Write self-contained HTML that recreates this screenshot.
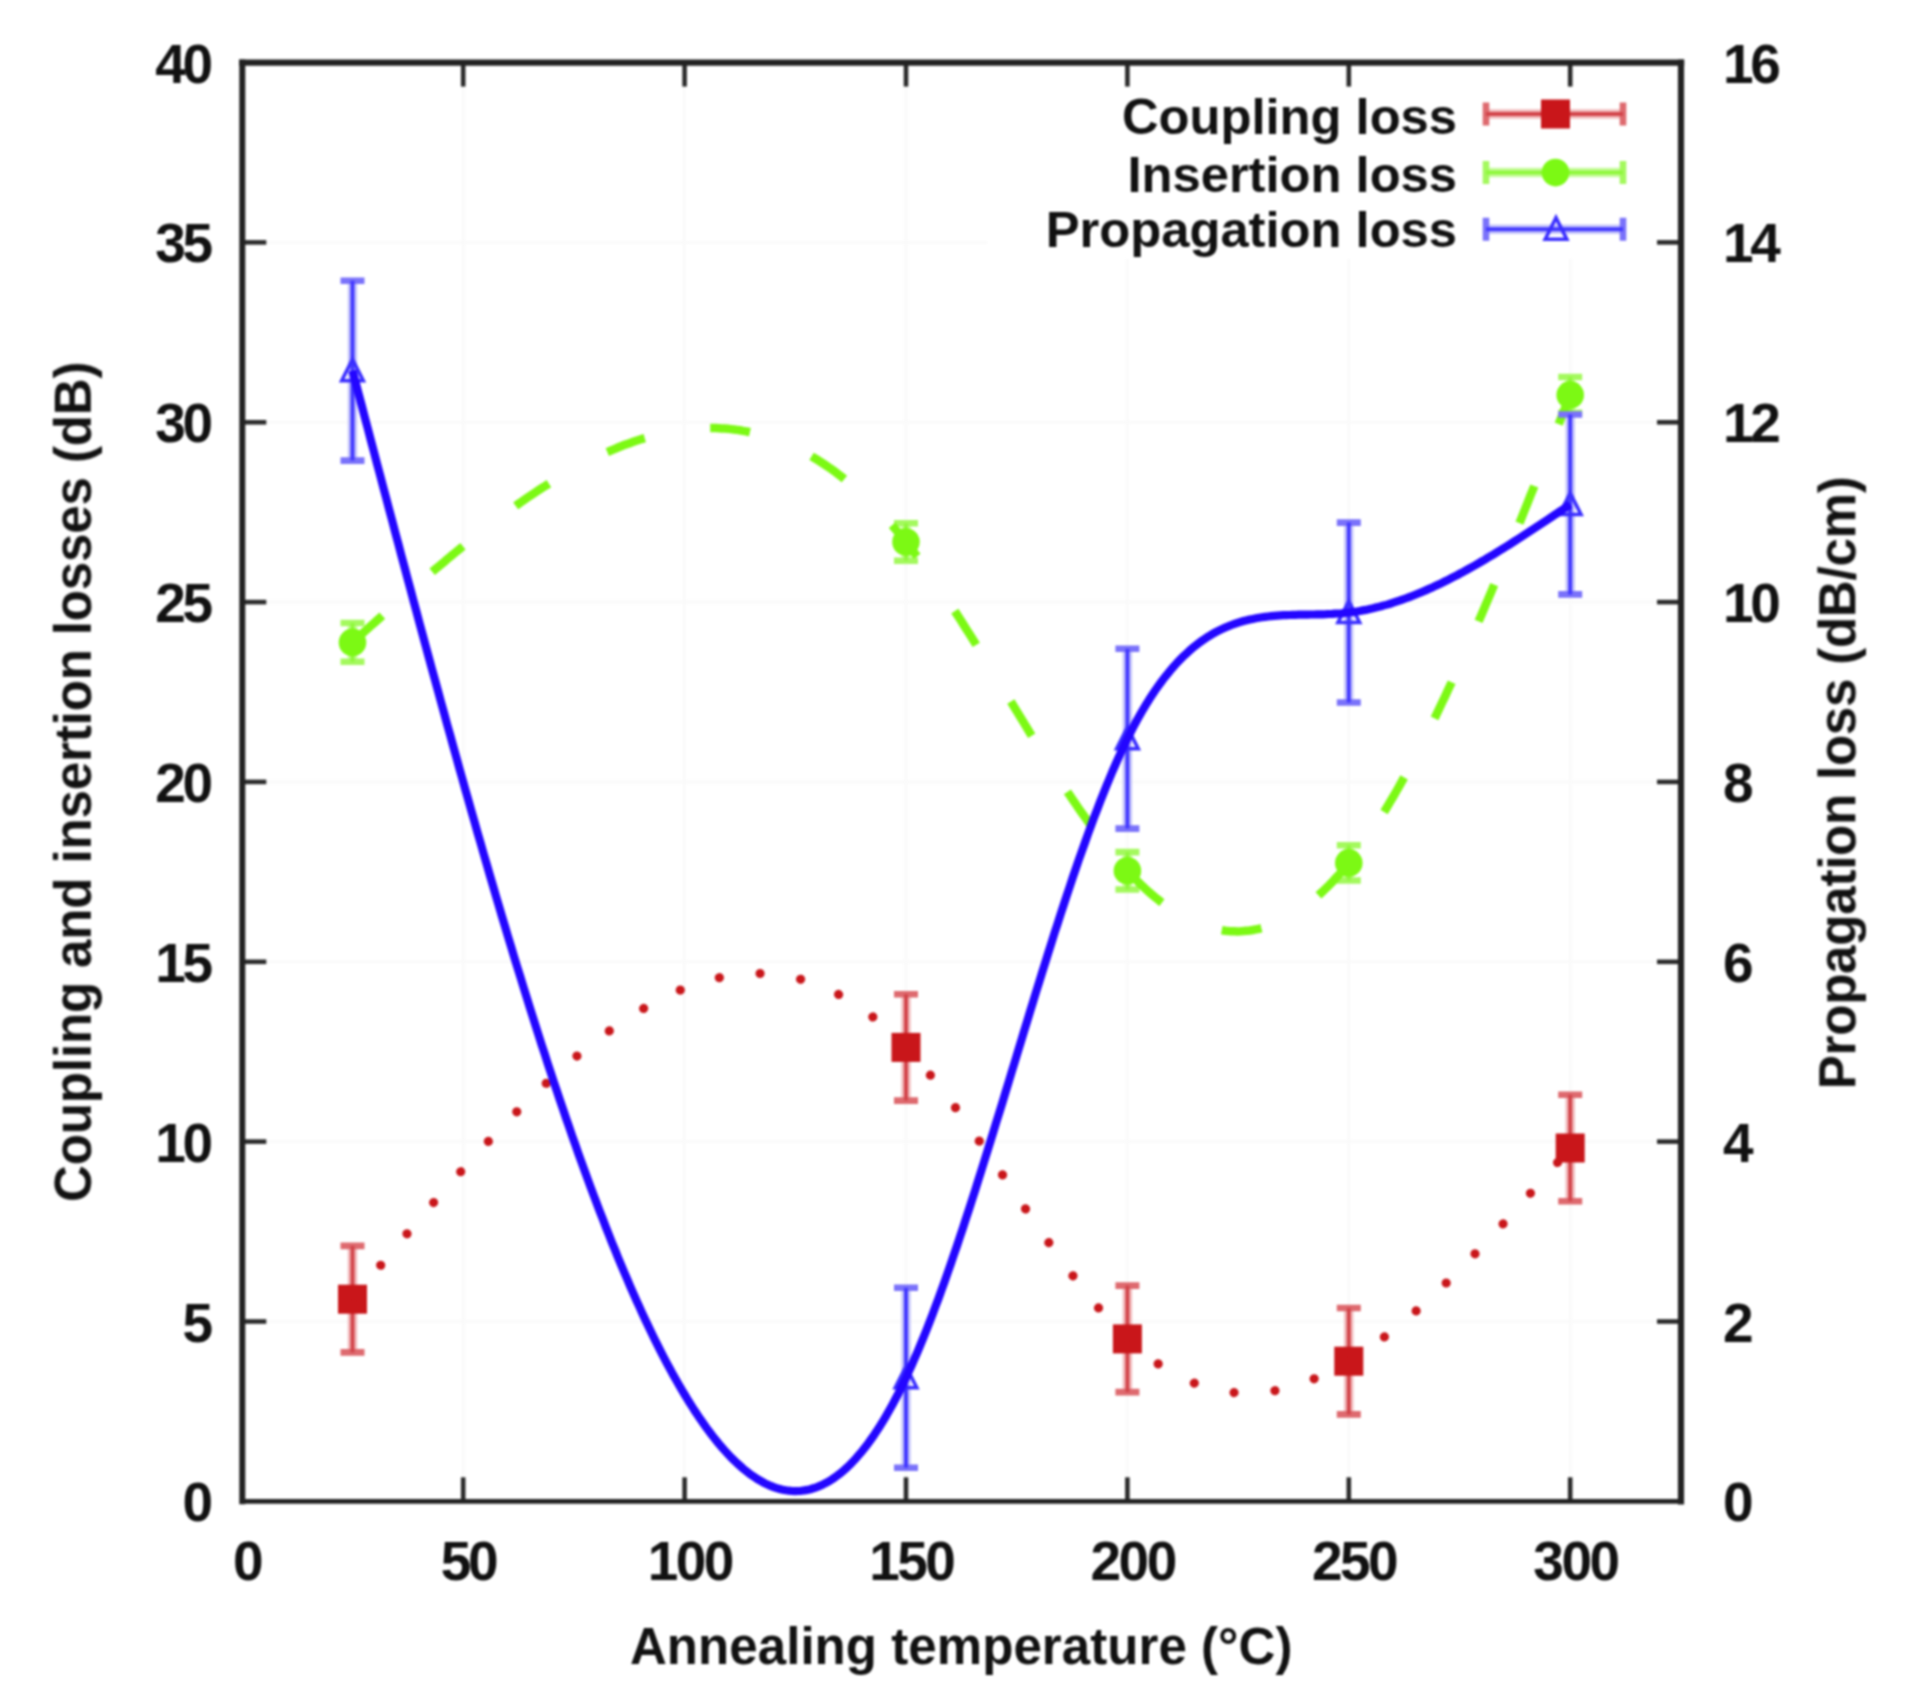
<!DOCTYPE html><html><head><meta charset="utf-8"><title>Losses vs annealing temperature</title>
<style>html,body{margin:0;padding:0;background:#fff}body{width:1930px;height:1690px;overflow:hidden}svg{display:block}text{font-family:"Liberation Sans",Arial,Helvetica,sans-serif;font-weight:bold;fill:#111}</style></head><body>
<svg width="1930" height="1690" viewBox="0 0 1930 1690">
<defs><filter id="b" x="-5%" y="-5%" width="110%" height="110%" color-interpolation-filters="sRGB"><feGaussianBlur stdDeviation="0.9"/></filter></defs>
<rect width="1930" height="1690" fill="#fff"/>
<g filter="url(#b)">
<g stroke="#fafafa" stroke-width="3"><line x1="463.2" y1="62.6" x2="463.2" y2="1501.3"/><line x1="684.6" y1="62.6" x2="684.6" y2="1501.3"/><line x1="906.0" y1="62.6" x2="906.0" y2="1501.3"/><line x1="1127.4" y1="62.6" x2="1127.4" y2="1501.3"/><line x1="1348.8" y1="62.6" x2="1348.8" y2="1501.3"/><line x1="1570.2" y1="62.6" x2="1570.2" y2="1501.3"/><line x1="242.3" y1="1321.5" x2="1681.0" y2="1321.5"/><line x1="242.3" y1="1141.6" x2="1681.0" y2="1141.6"/><line x1="242.3" y1="961.8" x2="1681.0" y2="961.8"/><line x1="242.3" y1="781.9" x2="1681.0" y2="781.9"/><line x1="242.3" y1="602.1" x2="1681.0" y2="602.1"/><line x1="242.3" y1="422.3" x2="1681.0" y2="422.3"/><line x1="242.3" y1="242.4" x2="1681.0" y2="242.4"/></g>
<rect x="987" y="64" width="694" height="195" fill="#fff"/>
<path d="M352.5,1245.9 V1352.4" stroke="#f2bcbe" stroke-width="9.5" fill="none"/><path d="M340.5,1245.9 h24.0 M340.5,1352.4 h24.0" stroke="#de6a6f" stroke-width="6.6" fill="none"/><path d="M352.5,1245.9 V1352.4" stroke="#d2444a" stroke-width="4" fill="none"/>
<rect x="338.0" y="1284.7" width="29" height="29" fill="#c9161a"/>
<path d="M906.0,994.2 V1100.6" stroke="#f2bcbe" stroke-width="9.5" fill="none"/><path d="M894.0,994.2 h24.0 M894.0,1100.6 h24.0" stroke="#de6a6f" stroke-width="6.6" fill="none"/><path d="M906.0,994.2 V1100.6" stroke="#d2444a" stroke-width="4" fill="none"/>
<rect x="891.5" y="1032.9" width="29" height="29" fill="#c9161a"/>
<path d="M1127.4,1285.6 V1392.1" stroke="#f2bcbe" stroke-width="9.5" fill="none"/><path d="M1115.4,1285.6 h24.0 M1115.4,1392.1 h24.0" stroke="#de6a6f" stroke-width="6.6" fill="none"/><path d="M1127.4,1285.6 V1392.1" stroke="#d2444a" stroke-width="4" fill="none"/>
<rect x="1112.9" y="1324.4" width="29" height="29" fill="#c9161a"/>
<path d="M1348.8,1308.0 V1414.4" stroke="#f2bcbe" stroke-width="9.5" fill="none"/><path d="M1336.8,1308.0 h24.0 M1336.8,1414.4 h24.0" stroke="#de6a6f" stroke-width="6.6" fill="none"/><path d="M1348.8,1308.0 V1414.4" stroke="#d2444a" stroke-width="4" fill="none"/>
<rect x="1334.3" y="1346.7" width="29" height="29" fill="#c9161a"/>
<path d="M1570.2,1094.8 V1201.3" stroke="#f2bcbe" stroke-width="9.5" fill="none"/><path d="M1558.2,1094.8 h24.0 M1558.2,1201.3 h24.0" stroke="#de6a6f" stroke-width="6.6" fill="none"/><path d="M1570.2,1094.8 V1201.3" stroke="#d2444a" stroke-width="4" fill="none"/>
<rect x="1555.7" y="1133.5" width="29" height="29" fill="#c9161a"/>
<path d="M352.5,1299.2 L355.6,1295.5 L358.6,1291.8 L361.7,1288.1 L364.7,1284.4 L367.8,1280.8 L370.8,1277.1 L373.9,1273.4 L376.9,1269.7 L380.0,1266.1 L383.0,1262.4 L386.1,1258.7 L389.1,1255.1 L392.2,1251.4 L395.2,1247.8 L398.3,1244.2 L401.3,1240.5 L404.4,1236.9 L407.4,1233.3 L410.5,1229.7 L413.5,1226.1 L416.6,1222.5 L419.6,1218.9 L422.7,1215.3 L425.7,1211.7 L428.8,1208.2 L431.8,1204.6 L434.9,1201.1 L438.0,1197.6 L441.0,1194.1 L444.1,1190.6 L447.1,1187.1 L450.2,1183.6 L453.2,1180.1 L456.3,1176.7 L459.3,1173.3 L462.4,1169.8 L465.4,1166.4 L468.5,1163.1 L471.5,1159.7 L474.6,1156.3 L477.6,1153.0 L480.7,1149.7 L483.7,1146.4 L486.8,1143.1 L489.8,1139.8 L492.9,1136.6 L495.9,1133.3 L499.0,1130.1 L502.0,1126.9 L505.1,1123.8 L508.1,1120.6 L511.2,1117.5 L514.2,1114.4 L517.3,1111.3 L520.4,1108.2 L523.4,1105.2 L526.5,1102.2 L529.5,1099.2 L532.6,1096.2 L535.6,1093.3 L538.7,1090.4 L541.7,1087.5 L544.8,1084.6 L547.8,1081.8 L550.9,1079.0 L553.9,1076.2 L557.0,1073.4 L560.0,1070.7 L563.1,1068.0 L566.1,1065.3 L569.2,1062.7 L572.2,1060.1 L575.3,1057.5 L578.3,1054.9 L581.4,1052.4 L584.4,1049.9 L587.5,1047.5 L590.5,1045.0 L593.6,1042.6 L596.7,1040.3 L599.7,1038.0 L602.8,1035.7 L605.8,1033.4 L608.9,1031.2 L611.9,1029.0 L615.0,1026.8 L618.0,1024.7 L621.1,1022.6 L624.1,1020.6 L627.2,1018.6 L630.2,1016.6 L633.3,1014.7 L636.3,1012.8 L639.4,1010.9 L642.4,1009.1 L645.5,1007.4 L648.5,1005.6 L651.6,1003.9 L654.6,1002.3 L657.7,1000.7 L660.7,999.1 L663.8,997.6 L666.8,996.1 L669.9,994.6 L672.9,993.3 L676.0,991.9 L679.1,990.6 L682.1,989.3 L685.2,988.1 L688.2,986.9 L691.3,985.8 L694.3,984.7 L697.4,983.7 L700.4,982.7 L703.5,981.8 L706.5,980.9 L709.6,980.0 L712.6,979.2 L715.7,978.5 L718.7,977.8 L721.8,977.2 L724.8,976.6 L727.9,976.0 L730.9,975.5 L734.0,975.1 L737.0,974.7 L740.1,974.4 L743.1,974.1 L746.2,973.9 L749.2,973.7 L752.3,973.6 L755.3,973.5 L758.4,973.5 L761.5,973.5 L764.5,973.6 L767.6,973.8 L770.6,974.0 L773.7,974.3 L776.7,974.6 L779.8,975.0 L782.8,975.5 L785.9,976.0 L788.9,976.5 L792.0,977.2 L795.0,977.8 L798.1,978.6 L801.1,979.4 L804.2,980.3 L807.2,981.2 L810.3,982.2 L813.3,983.3 L816.4,984.4 L819.4,985.6 L822.5,986.8 L825.5,988.1 L828.6,989.5 L831.6,990.9 L834.7,992.4 L837.7,994.0 L840.8,995.7 L843.9,997.4 L846.9,999.1 L850.0,1001.0 L853.0,1002.9 L856.1,1004.9 L859.1,1006.9 L862.2,1009.0 L865.2,1011.2 L868.3,1013.5 L871.3,1015.8 L874.4,1018.2 L877.4,1020.7 L880.5,1023.2 L883.5,1025.9 L886.6,1028.5 L889.6,1031.3 L892.7,1034.1 L895.7,1037.1 L898.8,1040.0 L901.8,1043.1 L904.9,1046.2 L907.9,1049.4 L911.0,1052.7 L914.0,1056.1 L917.1,1059.5 L920.1,1063.0 L923.2,1066.6 L926.3,1070.2 L929.3,1073.9 L932.4,1077.6 L935.4,1081.4 L938.5,1085.3 L941.5,1089.2 L944.6,1093.1 L947.6,1097.2 L950.7,1101.2 L953.7,1105.3 L956.8,1109.4 L959.8,1113.6 L962.9,1117.8 L965.9,1122.1 L969.0,1126.4 L972.0,1130.7 L975.1,1135.0 L978.1,1139.4 L981.2,1143.8 L984.2,1148.2 L987.3,1152.6 L990.3,1157.1 L993.4,1161.5 L996.4,1166.0 L999.5,1170.5 L1002.6,1175.0 L1005.6,1179.5 L1008.7,1184.0 L1011.7,1188.5 L1014.8,1193.0 L1017.8,1197.5 L1020.9,1202.0 L1023.9,1206.5 L1027.0,1211.0 L1030.0,1215.4 L1033.1,1219.9 L1036.1,1224.3 L1039.2,1228.7 L1042.2,1233.1 L1045.3,1237.5 L1048.3,1241.9 L1051.4,1246.2 L1054.4,1250.5 L1057.5,1254.8 L1060.5,1259.0 L1063.6,1263.2 L1066.6,1267.3 L1069.7,1271.5 L1072.7,1275.5 L1075.8,1279.6 L1078.8,1283.6 L1081.9,1287.5 L1085.0,1291.4 L1088.0,1295.2 L1091.1,1299.0 L1094.1,1302.7 L1097.2,1306.4 L1100.2,1310.0 L1103.3,1313.5 L1106.3,1316.9 L1109.4,1320.3 L1112.4,1323.7 L1115.5,1326.9 L1118.5,1330.1 L1121.6,1333.2 L1124.6,1336.2 L1127.7,1339.1 L1130.7,1342.0 L1133.8,1344.8 L1136.8,1347.4 L1139.9,1350.0 L1142.9,1352.6 L1146.0,1355.0 L1149.0,1357.4 L1152.1,1359.6 L1155.1,1361.8 L1158.2,1363.9 L1161.2,1366.0 L1164.3,1367.9 L1167.4,1369.8 L1170.4,1371.6 L1173.5,1373.4 L1176.5,1375.0 L1179.6,1376.6 L1182.6,1378.1 L1185.7,1379.5 L1188.7,1380.9 L1191.8,1382.1 L1194.8,1383.3 L1197.9,1384.5 L1200.9,1385.5 L1204.0,1386.5 L1207.0,1387.5 L1210.1,1388.3 L1213.1,1389.1 L1216.2,1389.8 L1219.2,1390.4 L1222.3,1391.0 L1225.3,1391.5 L1228.4,1391.9 L1231.4,1392.3 L1234.5,1392.6 L1237.5,1392.8 L1240.6,1393.0 L1243.6,1393.1 L1246.7,1393.2 L1249.8,1393.1 L1252.8,1393.1 L1255.9,1392.9 L1258.9,1392.7 L1262.0,1392.4 L1265.0,1392.1 L1268.1,1391.7 L1271.1,1391.3 L1274.2,1390.8 L1277.2,1390.2 L1280.3,1389.6 L1283.3,1388.9 L1286.4,1388.1 L1289.4,1387.3 L1292.5,1386.5 L1295.5,1385.6 L1298.6,1384.6 L1301.6,1383.6 L1304.7,1382.5 L1307.7,1381.4 L1310.8,1380.2 L1313.8,1378.9 L1316.9,1377.7 L1319.9,1376.3 L1323.0,1374.9 L1326.0,1373.5 L1329.1,1372.0 L1332.2,1370.5 L1335.2,1368.9 L1338.3,1367.2 L1341.3,1365.5 L1344.4,1363.8 L1347.4,1362.0 L1350.5,1360.2 L1353.5,1358.3 L1356.6,1356.4 L1359.6,1354.5 L1362.7,1352.4 L1365.7,1350.4 L1368.8,1348.3 L1371.8,1346.2 L1374.9,1344.0 L1377.9,1341.8 L1381.0,1339.5 L1384.0,1337.2 L1387.1,1334.9 L1390.1,1332.5 L1393.2,1330.1 L1396.2,1327.7 L1399.3,1325.2 L1402.3,1322.7 L1405.4,1320.1 L1408.5,1317.5 L1411.5,1314.9 L1414.6,1312.3 L1417.6,1309.6 L1420.7,1306.9 L1423.7,1304.1 L1426.8,1301.3 L1429.8,1298.5 L1432.9,1295.7 L1435.9,1292.8 L1439.0,1289.9 L1442.0,1287.0 L1445.1,1284.1 L1448.1,1281.1 L1451.2,1278.1 L1454.2,1275.1 L1457.3,1272.0 L1460.3,1268.9 L1463.4,1265.8 L1466.4,1262.7 L1469.5,1259.6 L1472.5,1256.4 L1475.6,1253.2 L1478.6,1250.0 L1481.7,1246.8 L1484.7,1243.6 L1487.8,1240.3 L1490.9,1237.1 L1493.9,1233.8 L1497.0,1230.5 L1500.0,1227.1 L1503.1,1223.8 L1506.1,1220.5 L1509.2,1217.1 L1512.2,1213.7 L1515.3,1210.3 L1518.3,1206.9 L1521.4,1203.5 L1524.4,1200.1 L1527.5,1196.7 L1530.5,1193.2 L1533.6,1189.8 L1536.6,1186.3 L1539.7,1182.9 L1542.7,1179.4 L1545.8,1175.9 L1548.8,1172.5 L1551.9,1169.0 L1554.9,1165.5 L1558.0,1162.0 L1561.0,1158.5 L1564.1,1155.0 L1567.1,1151.5 L1570.2,1148.0" fill="none" stroke="#c9161a" stroke-width="9.2" stroke-dasharray="0.01 41.02" stroke-dashoffset="-3.1" stroke-linecap="round"/>
<path d="M352.5,623.0 V661.8" stroke="#c8fb9e" stroke-width="9.5" fill="none"/><path d="M340.5,623.0 h24.0 M340.5,661.8 h24.0" stroke="#a4f95e" stroke-width="6.6" fill="none"/><path d="M352.5,623.0 V661.8" stroke="#8ff83c" stroke-width="4" fill="none"/>
<circle cx="352.5" cy="642.4" r="13.8" fill="#7cf914"/>
<path d="M906.0,523.3 V560.7" stroke="#c8fb9e" stroke-width="9.5" fill="none"/><path d="M894.0,523.3 h24.0 M894.0,560.7 h24.0" stroke="#a4f95e" stroke-width="6.6" fill="none"/><path d="M906.0,523.3 V560.7" stroke="#8ff83c" stroke-width="4" fill="none"/>
<circle cx="906.0" cy="542.0" r="13.8" fill="#7cf914"/>
<path d="M1127.4,852.1 V889.5" stroke="#c8fb9e" stroke-width="9.5" fill="none"/><path d="M1115.4,852.1 h24.0 M1115.4,889.5 h24.0" stroke="#a4f95e" stroke-width="6.6" fill="none"/><path d="M1127.4,852.1 V889.5" stroke="#8ff83c" stroke-width="4" fill="none"/>
<circle cx="1127.4" cy="870.8" r="13.8" fill="#7cf914"/>
<path d="M1348.8,845.3 V880.5" stroke="#c8fb9e" stroke-width="9.5" fill="none"/><path d="M1336.8,845.3 h24.0 M1336.8,880.5 h24.0" stroke="#a4f95e" stroke-width="6.6" fill="none"/><path d="M1348.8,845.3 V880.5" stroke="#8ff83c" stroke-width="4" fill="none"/>
<circle cx="1348.8" cy="862.9" r="13.8" fill="#7cf914"/>
<path d="M1570.2,377.0 V412.9" stroke="#c8fb9e" stroke-width="9.5" fill="none"/><path d="M1558.2,377.0 h24.0 M1558.2,412.9 h24.0" stroke="#a4f95e" stroke-width="6.6" fill="none"/><path d="M1570.2,377.0 V412.9" stroke="#8ff83c" stroke-width="4" fill="none"/>
<circle cx="1570.2" cy="394.9" r="13.8" fill="#7cf914"/>
<path d="M352.5,642.4 L355.6,639.7 L358.6,636.9 L361.7,634.2 L364.7,631.4 L367.8,628.7 L370.8,625.9 L373.9,623.2 L376.9,620.5 L380.0,617.8 L383.0,615.0 L386.1,612.3 L389.1,609.6 L392.2,606.9 L395.2,604.2 L398.3,601.5 L401.3,598.8 L404.4,596.1 L407.4,593.4 L410.5,590.7 L413.5,588.1 L416.6,585.4 L419.6,582.7 L422.7,580.1 L425.7,577.5 L428.8,574.8 L431.8,572.2 L434.9,569.6 L438.0,567.0 L441.0,564.5 L444.1,561.9 L447.1,559.3 L450.2,556.8 L453.2,554.2 L456.3,551.7 L459.3,549.2 L462.4,546.7 L465.4,544.3 L468.5,541.8 L471.5,539.3 L474.6,536.9 L477.6,534.5 L480.7,532.1 L483.7,529.7 L486.8,527.3 L489.8,525.0 L492.9,522.7 L495.9,520.4 L499.0,518.1 L502.0,515.8 L505.1,513.5 L508.1,511.3 L511.2,509.1 L514.2,506.9 L517.3,504.7 L520.4,502.6 L523.4,500.4 L526.5,498.3 L529.5,496.3 L532.6,494.2 L535.6,492.2 L538.7,490.1 L541.7,488.2 L544.8,486.2 L547.8,484.3 L550.9,482.3 L553.9,480.5 L557.0,478.6 L560.0,476.8 L563.1,475.0 L566.1,473.2 L569.2,471.4 L572.2,469.7 L575.3,468.0 L578.3,466.3 L581.4,464.7 L584.4,463.1 L587.5,461.5 L590.5,460.0 L593.6,458.5 L596.7,457.0 L599.7,455.5 L602.8,454.1 L605.8,452.7 L608.9,451.4 L611.9,450.1 L615.0,448.8 L618.0,447.5 L621.1,446.3 L624.1,445.1 L627.2,444.0 L630.2,442.9 L633.3,441.8 L636.3,440.8 L639.4,439.8 L642.4,438.8 L645.5,437.9 L648.5,437.0 L651.6,436.2 L654.6,435.4 L657.7,434.6 L660.7,433.9 L663.8,433.2 L666.8,432.6 L669.9,432.0 L672.9,431.4 L676.0,430.9 L679.1,430.4 L682.1,430.0 L685.2,429.6 L688.2,429.2 L691.3,428.9 L694.3,428.7 L697.4,428.4 L700.4,428.3 L703.5,428.1 L706.5,428.1 L709.6,428.0 L712.6,428.0 L715.7,428.1 L718.7,428.2 L721.8,428.4 L724.8,428.6 L727.9,428.8 L730.9,429.1 L734.0,429.5 L737.0,429.9 L740.1,430.3 L743.1,430.9 L746.2,431.4 L749.2,432.0 L752.3,432.7 L755.3,433.4 L758.4,434.1 L761.5,435.0 L764.5,435.8 L767.6,436.8 L770.6,437.7 L773.7,438.8 L776.7,439.9 L779.8,441.0 L782.8,442.2 L785.9,443.5 L788.9,444.8 L792.0,446.1 L795.0,447.6 L798.1,449.1 L801.1,450.6 L804.2,452.2 L807.2,453.9 L810.3,455.6 L813.3,457.4 L816.4,459.2 L819.4,461.1 L822.5,463.1 L825.5,465.1 L828.6,467.2 L831.6,469.3 L834.7,471.5 L837.7,473.8 L840.8,476.2 L843.9,478.6 L846.9,481.0 L850.0,483.6 L853.0,486.2 L856.1,488.8 L859.1,491.6 L862.2,494.3 L865.2,497.2 L868.3,500.1 L871.3,503.1 L874.4,506.2 L877.4,509.3 L880.5,512.5 L883.5,515.8 L886.6,519.1 L889.6,522.5 L892.7,526.0 L895.7,529.6 L898.8,533.2 L901.8,536.9 L904.9,540.7 L907.9,544.5 L911.0,548.4 L914.0,552.4 L917.1,556.4 L920.1,560.5 L923.2,564.7 L926.3,568.9 L929.3,573.2 L932.4,577.6 L935.4,582.0 L938.5,586.4 L941.5,590.9 L944.6,595.5 L947.6,600.1 L950.7,604.7 L953.7,609.4 L956.8,614.1 L959.8,618.8 L962.9,623.6 L965.9,628.4 L969.0,633.3 L972.0,638.1 L975.1,643.0 L978.1,647.9 L981.2,652.9 L984.2,657.8 L987.3,662.8 L990.3,667.8 L993.4,672.8 L996.4,677.8 L999.5,682.8 L1002.6,687.8 L1005.6,692.8 L1008.7,697.9 L1011.7,702.9 L1014.8,707.9 L1017.8,712.9 L1020.9,717.9 L1023.9,722.9 L1027.0,727.9 L1030.0,732.9 L1033.1,737.8 L1036.1,742.8 L1039.2,747.7 L1042.2,752.6 L1045.3,757.4 L1048.3,762.3 L1051.4,767.1 L1054.4,771.8 L1057.5,776.6 L1060.5,781.3 L1063.6,785.9 L1066.6,790.6 L1069.7,795.2 L1072.7,799.7 L1075.8,804.2 L1078.8,808.6 L1081.9,813.0 L1085.0,817.3 L1088.0,821.6 L1091.1,825.8 L1094.1,830.0 L1097.2,834.1 L1100.2,838.1 L1103.3,842.1 L1106.3,846.0 L1109.4,849.8 L1112.4,853.5 L1115.5,857.2 L1118.5,860.8 L1121.6,864.3 L1124.6,867.7 L1127.7,871.1 L1130.7,874.3 L1133.8,877.5 L1136.8,880.6 L1139.9,883.6 L1142.9,886.5 L1146.0,889.3 L1149.0,892.1 L1152.1,894.7 L1155.1,897.3 L1158.2,899.7 L1161.2,902.1 L1164.3,904.4 L1167.4,906.6 L1170.4,908.7 L1173.5,910.7 L1176.5,912.6 L1179.6,914.5 L1182.6,916.2 L1185.7,917.8 L1188.7,919.4 L1191.8,920.8 L1194.8,922.2 L1197.9,923.5 L1200.9,924.7 L1204.0,925.7 L1207.0,926.7 L1210.1,927.6 L1213.1,928.4 L1216.2,929.1 L1219.2,929.7 L1222.3,930.3 L1225.3,930.7 L1228.4,931.0 L1231.4,931.2 L1234.5,931.3 L1237.5,931.4 L1240.6,931.3 L1243.6,931.1 L1246.7,930.8 L1249.8,930.5 L1252.8,930.0 L1255.9,929.4 L1258.9,928.8 L1262.0,928.0 L1265.0,927.1 L1268.1,926.2 L1271.1,925.1 L1274.2,923.9 L1277.2,922.7 L1280.3,921.3 L1283.3,919.8 L1286.4,918.2 L1289.4,916.6 L1292.5,914.8 L1295.5,912.9 L1298.6,910.9 L1301.6,908.8 L1304.7,906.6 L1307.7,904.3 L1310.8,901.9 L1313.8,899.3 L1316.9,896.7 L1319.9,894.0 L1323.0,891.2 L1326.0,888.2 L1329.1,885.2 L1332.2,882.0 L1335.2,878.7 L1338.3,875.4 L1341.3,871.9 L1344.4,868.3 L1347.4,864.6 L1350.5,860.8 L1353.5,856.9 L1356.6,852.8 L1359.6,848.7 L1362.7,844.5 L1365.7,840.1 L1368.8,835.7 L1371.8,831.2 L1374.9,826.5 L1377.9,821.8 L1381.0,817.0 L1384.0,812.1 L1387.1,807.0 L1390.1,801.9 L1393.2,796.7 L1396.2,791.5 L1399.3,786.1 L1402.3,780.6 L1405.4,775.1 L1408.5,769.5 L1411.5,763.8 L1414.6,758.0 L1417.6,752.2 L1420.7,746.3 L1423.7,740.3 L1426.8,734.2 L1429.8,728.0 L1432.9,721.8 L1435.9,715.6 L1439.0,709.2 L1442.0,702.8 L1445.1,696.3 L1448.1,689.8 L1451.2,683.2 L1454.2,676.5 L1457.3,669.8 L1460.3,663.1 L1463.4,656.2 L1466.4,649.4 L1469.5,642.4 L1472.5,635.5 L1475.6,628.4 L1478.6,621.4 L1481.7,614.2 L1484.7,607.1 L1487.8,599.9 L1490.9,592.6 L1493.9,585.3 L1497.0,578.0 L1500.0,570.7 L1503.1,563.3 L1506.1,555.9 L1509.2,548.4 L1512.2,540.9 L1515.3,533.4 L1518.3,525.9 L1521.4,518.3 L1524.4,510.7 L1527.5,503.1 L1530.5,495.4 L1533.6,487.8 L1536.6,480.1 L1539.7,472.4 L1542.7,464.7 L1545.8,457.0 L1548.8,449.3 L1551.9,441.5 L1554.9,433.8 L1558.0,426.0 L1561.0,418.3 L1564.1,410.5 L1567.1,402.7 L1570.2,394.9" fill="none" stroke="#7cf914" stroke-width="8.5" stroke-dasharray="40 66.45"/>
<path d="M352.5,280.7 V460.6" stroke="#c6c6fa" stroke-width="9.5" fill="none"/><path d="M340.5,280.7 h24.0 M340.5,460.6 h24.0" stroke="#7a72fa" stroke-width="6.6" fill="none"/><path d="M352.5,280.7 V460.6" stroke="#4238ff" stroke-width="4" fill="none"/>
<path d="M352.5,359.2 l10.8,21.5 h-21.6 z" fill="none" stroke="#3a2eff" stroke-width="3.6" stroke-linejoin="miter"/>
<path d="M906.0,1287.8 V1467.7" stroke="#c6c6fa" stroke-width="9.5" fill="none"/><path d="M894.0,1287.8 h24.0 M894.0,1467.7 h24.0" stroke="#7a72fa" stroke-width="6.6" fill="none"/><path d="M906.0,1287.8 V1467.7" stroke="#4238ff" stroke-width="4" fill="none"/>
<path d="M906.0,1366.3 l10.8,21.5 h-21.6 z" fill="none" stroke="#3a2eff" stroke-width="3.6" stroke-linejoin="miter"/>
<path d="M1127.4,648.8 V828.6" stroke="#c6c6fa" stroke-width="9.5" fill="none"/><path d="M1115.4,648.8 h24.0 M1115.4,828.6 h24.0" stroke="#7a72fa" stroke-width="6.6" fill="none"/><path d="M1127.4,648.8 V828.6" stroke="#4238ff" stroke-width="4" fill="none"/>
<path d="M1127.4,727.2 l10.8,21.5 h-21.6 z" fill="none" stroke="#3a2eff" stroke-width="3.6" stroke-linejoin="miter"/>
<path d="M1348.8,522.6 V702.5" stroke="#c6c6fa" stroke-width="9.5" fill="none"/><path d="M1336.8,522.6 h24.0 M1336.8,702.5 h24.0" stroke="#7a72fa" stroke-width="6.6" fill="none"/><path d="M1348.8,522.6 V702.5" stroke="#4238ff" stroke-width="4" fill="none"/>
<path d="M1348.8,601.0 l10.8,21.5 h-21.6 z" fill="none" stroke="#3a2eff" stroke-width="3.6" stroke-linejoin="miter"/>
<path d="M1570.2,414.5 V594.4" stroke="#c6c6fa" stroke-width="9.5" fill="none"/><path d="M1558.2,414.5 h24.0 M1558.2,594.4 h24.0" stroke="#7a72fa" stroke-width="6.6" fill="none"/><path d="M1570.2,414.5 V594.4" stroke="#4238ff" stroke-width="4" fill="none"/>
<path d="M1570.2,493.0 l10.8,21.5 h-21.6 z" fill="none" stroke="#3a2eff" stroke-width="3.6" stroke-linejoin="miter"/>
<path d="M352.5,370.7 L355.6,382.2 L358.6,393.8 L361.7,405.4 L364.7,417.0 L367.8,428.5 L370.8,440.1 L373.9,451.7 L376.9,463.2 L380.0,474.7 L383.0,486.3 L386.1,497.8 L389.1,509.3 L392.2,520.8 L395.2,532.3 L398.3,543.7 L401.3,555.2 L404.4,566.6 L407.4,578.0 L410.5,589.4 L413.5,600.8 L416.6,612.1 L419.6,623.5 L422.7,634.8 L425.7,646.0 L428.8,657.3 L431.8,668.5 L434.9,679.7 L438.0,690.9 L441.0,702.0 L444.1,713.1 L447.1,724.2 L450.2,735.2 L453.2,746.2 L456.3,757.1 L459.3,768.1 L462.4,779.0 L465.4,789.8 L468.5,800.6 L471.5,811.4 L474.6,822.1 L477.6,832.8 L480.7,843.4 L483.7,854.0 L486.8,864.5 L489.8,875.0 L492.9,885.5 L495.9,895.9 L499.0,906.2 L502.0,916.5 L505.1,926.7 L508.1,936.9 L511.2,947.0 L514.2,957.1 L517.3,967.1 L520.4,977.0 L523.4,986.9 L526.5,996.7 L529.5,1006.5 L532.6,1016.2 L535.6,1025.8 L538.7,1035.4 L541.7,1044.9 L544.8,1054.3 L547.8,1063.7 L550.9,1073.0 L553.9,1082.2 L557.0,1091.4 L560.0,1100.4 L563.1,1109.4 L566.1,1118.4 L569.2,1127.2 L572.2,1136.0 L575.3,1144.7 L578.3,1153.3 L581.4,1161.8 L584.4,1170.2 L587.5,1178.6 L590.5,1186.9 L593.6,1195.1 L596.7,1203.2 L599.7,1211.2 L602.8,1219.1 L605.8,1227.0 L608.9,1234.7 L611.9,1242.4 L615.0,1249.9 L618.0,1257.4 L621.1,1264.8 L624.1,1272.0 L627.2,1279.2 L630.2,1286.3 L633.3,1293.3 L636.3,1300.2 L639.4,1306.9 L642.4,1313.6 L645.5,1320.2 L648.5,1326.6 L651.6,1333.0 L654.6,1339.2 L657.7,1345.4 L660.7,1351.4 L663.8,1357.3 L666.8,1363.1 L669.9,1368.8 L672.9,1374.4 L676.0,1379.8 L679.1,1385.2 L682.1,1390.4 L685.2,1395.5 L688.2,1400.5 L691.3,1405.4 L694.3,1410.1 L697.4,1414.7 L700.4,1419.2 L703.5,1423.6 L706.5,1427.9 L709.6,1432.0 L712.6,1436.0 L715.7,1439.8 L718.7,1443.6 L721.8,1447.2 L724.8,1450.6 L727.9,1454.0 L730.9,1457.2 L734.0,1460.2 L737.0,1463.1 L740.1,1465.9 L743.1,1468.6 L746.2,1471.1 L749.2,1473.4 L752.3,1475.7 L755.3,1477.7 L758.4,1479.7 L761.5,1481.4 L764.5,1483.1 L767.6,1484.6 L770.6,1485.9 L773.7,1487.1 L776.7,1488.1 L779.8,1489.0 L782.8,1489.7 L785.9,1490.3 L788.9,1490.7 L792.0,1491.0 L795.0,1491.1 L798.1,1491.0 L801.1,1490.8 L804.2,1490.4 L807.2,1489.9 L810.3,1489.2 L813.3,1488.3 L816.4,1487.3 L819.4,1486.1 L822.5,1484.7 L825.5,1483.2 L828.6,1481.5 L831.6,1479.6 L834.7,1477.5 L837.7,1475.3 L840.8,1472.9 L843.9,1470.3 L846.9,1467.6 L850.0,1464.6 L853.0,1461.5 L856.1,1458.2 L859.1,1454.7 L862.2,1451.1 L865.2,1447.2 L868.3,1443.2 L871.3,1439.0 L874.4,1434.6 L877.4,1430.0 L880.5,1425.2 L883.5,1420.3 L886.6,1415.1 L889.6,1409.8 L892.7,1404.2 L895.7,1398.5 L898.8,1392.6 L901.8,1386.4 L904.9,1380.1 L907.9,1373.6 L911.0,1366.9 L914.0,1359.9 L917.1,1352.8 L920.1,1345.6 L923.2,1338.1 L926.3,1330.5 L929.3,1322.7 L932.4,1314.8 L935.4,1306.7 L938.5,1298.5 L941.5,1290.1 L944.6,1281.6 L947.6,1273.0 L950.7,1264.2 L953.7,1255.3 L956.8,1246.3 L959.8,1237.2 L962.9,1228.1 L965.9,1218.8 L969.0,1209.4 L972.0,1199.9 L975.1,1190.4 L978.1,1180.8 L981.2,1171.1 L984.2,1161.4 L987.3,1151.6 L990.3,1141.7 L993.4,1131.8 L996.4,1121.9 L999.5,1112.0 L1002.6,1102.0 L1005.6,1092.0 L1008.7,1081.9 L1011.7,1071.9 L1014.8,1061.9 L1017.8,1051.8 L1020.9,1041.8 L1023.9,1031.8 L1027.0,1021.8 L1030.0,1011.8 L1033.1,1001.8 L1036.1,991.9 L1039.2,982.0 L1042.2,972.2 L1045.3,962.4 L1048.3,952.7 L1051.4,943.0 L1054.4,933.4 L1057.5,923.9 L1060.5,914.5 L1063.6,905.1 L1066.6,895.9 L1069.7,886.7 L1072.7,877.6 L1075.8,868.6 L1078.8,859.8 L1081.9,851.1 L1085.0,842.5 L1088.0,834.0 L1091.1,825.6 L1094.1,817.4 L1097.2,809.4 L1100.2,801.5 L1103.3,793.7 L1106.3,786.2 L1109.4,778.7 L1112.4,771.5 L1115.5,764.5 L1118.5,757.6 L1121.6,750.9 L1124.6,744.4 L1127.7,738.1 L1130.7,732.1 L1133.8,726.2 L1136.8,720.5 L1139.9,715.0 L1142.9,709.8 L1146.0,704.7 L1149.0,699.8 L1152.1,695.1 L1155.1,690.5 L1158.2,686.1 L1161.2,682.0 L1164.3,677.9 L1167.4,674.1 L1170.4,670.4 L1173.5,666.8 L1176.5,663.4 L1179.6,660.2 L1182.6,657.1 L1185.7,654.2 L1188.7,651.4 L1191.8,648.7 L1194.8,646.2 L1197.9,643.8 L1200.9,641.5 L1204.0,639.4 L1207.0,637.3 L1210.1,635.4 L1213.1,633.6 L1216.2,631.9 L1219.2,630.4 L1222.3,628.9 L1225.3,627.5 L1228.4,626.2 L1231.4,625.0 L1234.5,623.9 L1237.5,622.9 L1240.6,621.9 L1243.6,621.0 L1246.7,620.3 L1249.8,619.5 L1252.8,618.9 L1255.9,618.3 L1258.9,617.8 L1262.0,617.3 L1265.0,616.9 L1268.1,616.5 L1271.1,616.2 L1274.2,615.9 L1277.2,615.6 L1280.3,615.4 L1283.3,615.2 L1286.4,615.1 L1289.4,615.0 L1292.5,614.9 L1295.5,614.8 L1298.6,614.7 L1301.6,614.7 L1304.7,614.6 L1307.7,614.6 L1310.8,614.5 L1313.8,614.5 L1316.9,614.4 L1319.9,614.3 L1323.0,614.3 L1326.0,614.2 L1329.1,614.0 L1332.2,613.9 L1335.2,613.7 L1338.3,613.5 L1341.3,613.3 L1344.4,613.0 L1347.4,612.7 L1350.5,612.3 L1353.5,611.9 L1356.6,611.5 L1359.6,611.0 L1362.7,610.4 L1365.7,609.9 L1368.8,609.2 L1371.8,608.6 L1374.9,607.8 L1377.9,607.1 L1381.0,606.3 L1384.0,605.4 L1387.1,604.6 L1390.1,603.7 L1393.2,602.7 L1396.2,601.7 L1399.3,600.7 L1402.3,599.6 L1405.4,598.5 L1408.5,597.4 L1411.5,596.2 L1414.6,595.0 L1417.6,593.8 L1420.7,592.5 L1423.7,591.2 L1426.8,589.9 L1429.8,588.6 L1432.9,587.2 L1435.9,585.7 L1439.0,584.3 L1442.0,582.8 L1445.1,581.3 L1448.1,579.8 L1451.2,578.2 L1454.2,576.7 L1457.3,575.1 L1460.3,573.4 L1463.4,571.8 L1466.4,570.1 L1469.5,568.4 L1472.5,566.7 L1475.6,565.0 L1478.6,563.2 L1481.7,561.4 L1484.7,559.7 L1487.8,557.8 L1490.9,556.0 L1493.9,554.2 L1497.0,552.3 L1500.0,550.4 L1503.1,548.5 L1506.1,546.6 L1509.2,544.7 L1512.2,542.8 L1515.3,540.8 L1518.3,538.9 L1521.4,536.9 L1524.4,534.9 L1527.5,532.9 L1530.5,530.9 L1533.6,528.9 L1536.6,526.9 L1539.7,524.9 L1542.7,522.9 L1545.8,520.8 L1548.8,518.8 L1551.9,516.8 L1554.9,514.7 L1558.0,512.7 L1561.0,510.6 L1564.1,508.6 L1567.1,506.5 L1570.2,504.5" fill="none" stroke="#2306ff" stroke-width="8.2" stroke-linejoin="round"/>
<g stroke="#2a2a2a" stroke-width="4.6"><line x1="463.2" y1="1501.3" x2="463.2" y2="1477.3"/><line x1="463.2" y1="62.6" x2="463.2" y2="86.6"/><line x1="684.6" y1="1501.3" x2="684.6" y2="1477.3"/><line x1="684.6" y1="62.6" x2="684.6" y2="86.6"/><line x1="906.0" y1="1501.3" x2="906.0" y2="1477.3"/><line x1="906.0" y1="62.6" x2="906.0" y2="86.6"/><line x1="1127.4" y1="1501.3" x2="1127.4" y2="1477.3"/><line x1="1127.4" y1="62.6" x2="1127.4" y2="86.6"/><line x1="1348.8" y1="1501.3" x2="1348.8" y2="1477.3"/><line x1="1348.8" y1="62.6" x2="1348.8" y2="86.6"/><line x1="1570.2" y1="1501.3" x2="1570.2" y2="1477.3"/><line x1="1570.2" y1="62.6" x2="1570.2" y2="86.6"/><line x1="242.3" y1="1321.5" x2="266.3" y2="1321.5"/><line x1="242.3" y1="1141.6" x2="266.3" y2="1141.6"/><line x1="242.3" y1="961.8" x2="266.3" y2="961.8"/><line x1="242.3" y1="781.9" x2="266.3" y2="781.9"/><line x1="242.3" y1="602.1" x2="266.3" y2="602.1"/><line x1="242.3" y1="422.3" x2="266.3" y2="422.3"/><line x1="242.3" y1="242.4" x2="266.3" y2="242.4"/><line x1="1681.0" y1="1321.5" x2="1657.0" y2="1321.5"/><line x1="1681.0" y1="1141.6" x2="1657.0" y2="1141.6"/><line x1="1681.0" y1="961.8" x2="1657.0" y2="961.8"/><line x1="1681.0" y1="781.9" x2="1657.0" y2="781.9"/><line x1="1681.0" y1="602.1" x2="1657.0" y2="602.1"/><line x1="1681.0" y1="422.3" x2="1657.0" y2="422.3"/><line x1="1681.0" y1="242.4" x2="1657.0" y2="242.4"/></g>
<g stroke="#222" stroke-linecap="square"><line x1="242.3" y1="62.6" x2="242.3" y2="1501.3" stroke-width="6"/><line x1="1681.0" y1="62.6" x2="1681.0" y2="1501.3" stroke-width="6.2"/><line x1="242.3" y1="62.6" x2="1681.0" y2="62.6" stroke-width="6.4"/><line x1="242.3" y1="1501.3" x2="1681.0" y2="1501.3" stroke-width="4.8"/></g>
<text x="1457" y="134.0" font-size="50.7" text-anchor="end">Coupling loss</text>
<path d="M1486.0,114.0 H1623.0" stroke="#f2bcbe" stroke-width="9.5" fill="none"/><path d="M1486.0,102.5 v23.0 M1623.0,102.5 v23.0" stroke="#de6a6f" stroke-width="6.6" fill="none"/><path d="M1486.0,114.0 H1623.0" stroke="#d2444a" stroke-width="4" fill="none"/>
<rect x="1541.0" y="99.5" width="29" height="29" fill="#c9161a"/>
<text x="1457" y="192.0" font-size="50.7" text-anchor="end">Insertion loss</text>
<path d="M1486.0,172.6 H1623.0" stroke="#c8fb9e" stroke-width="9.5" fill="none"/><path d="M1486.0,161.1 v23.0 M1623.0,161.1 v23.0" stroke="#a4f95e" stroke-width="6.6" fill="none"/><path d="M1486.0,172.6 H1623.0" stroke="#8ff83c" stroke-width="4" fill="none"/>
<circle cx="1555.5" cy="172.6" r="13.8" fill="#7cf914"/>
<text x="1457" y="247.2" font-size="50.7" text-anchor="end">Propagation loss</text>
<path d="M1486.0,229.3 H1623.0" stroke="#c6c6fa" stroke-width="9.5" fill="none"/><path d="M1486.0,217.8 v23.0 M1623.0,217.8 v23.0" stroke="#7a72fa" stroke-width="6.6" fill="none"/><path d="M1486.0,229.3 H1623.0" stroke="#4238ff" stroke-width="4" fill="none"/>
<path d="M1556.0,217.8 l10.8,21.5 h-21.6 z" fill="none" stroke="#3a2eff" stroke-width="3.6" stroke-linejoin="miter"/>
<text x="213" y="1521.3" font-size="55" text-anchor="end" textLength="28.9" lengthAdjust="spacing">0</text>
<text x="213" y="1341.5" font-size="55" text-anchor="end" textLength="28.9" lengthAdjust="spacing">5</text>
<text x="213" y="1161.6" font-size="55" text-anchor="end" textLength="57.8" lengthAdjust="spacing">10</text>
<text x="213" y="981.8" font-size="55" text-anchor="end" textLength="57.8" lengthAdjust="spacing">15</text>
<text x="213" y="801.9" font-size="55" text-anchor="end" textLength="57.8" lengthAdjust="spacing">20</text>
<text x="213" y="622.1" font-size="55" text-anchor="end" textLength="57.8" lengthAdjust="spacing">25</text>
<text x="213" y="442.3" font-size="55" text-anchor="end" textLength="57.8" lengthAdjust="spacing">30</text>
<text x="213" y="262.4" font-size="55" text-anchor="end" textLength="57.8" lengthAdjust="spacing">35</text>
<text x="213" y="82.6" font-size="55" text-anchor="end" textLength="57.8" lengthAdjust="spacing">40</text>
<text x="1723" y="1521.3" font-size="55" text-anchor="start" textLength="28.9" lengthAdjust="spacing">0</text>
<text x="1723" y="1341.5" font-size="55" text-anchor="start" textLength="28.9" lengthAdjust="spacing">2</text>
<text x="1723" y="1161.6" font-size="55" text-anchor="start" textLength="28.9" lengthAdjust="spacing">4</text>
<text x="1723" y="981.8" font-size="55" text-anchor="start" textLength="28.9" lengthAdjust="spacing">6</text>
<text x="1723" y="801.9" font-size="55" text-anchor="start" textLength="28.9" lengthAdjust="spacing">8</text>
<text x="1723" y="622.1" font-size="55" text-anchor="start" textLength="57.8" lengthAdjust="spacing">10</text>
<text x="1723" y="442.3" font-size="55" text-anchor="start" textLength="57.8" lengthAdjust="spacing">12</text>
<text x="1723" y="262.4" font-size="55" text-anchor="start" textLength="57.8" lengthAdjust="spacing">14</text>
<text x="1723" y="82.6" font-size="55" text-anchor="start" textLength="57.8" lengthAdjust="spacing">16</text>
<text x="248.3" y="1580" font-size="55" text-anchor="middle" textLength="28.9" lengthAdjust="spacing">0</text>
<text x="469.7" y="1580" font-size="55" text-anchor="middle" textLength="57.8" lengthAdjust="spacing">50</text>
<text x="691.1" y="1580" font-size="55" text-anchor="middle" textLength="86.7" lengthAdjust="spacing">100</text>
<text x="912.5" y="1580" font-size="55" text-anchor="middle" textLength="86.7" lengthAdjust="spacing">150</text>
<text x="1133.9" y="1580" font-size="55" text-anchor="middle" textLength="86.7" lengthAdjust="spacing">200</text>
<text x="1355.3" y="1580" font-size="55" text-anchor="middle" textLength="86.7" lengthAdjust="spacing">250</text>
<text x="1576.7" y="1580" font-size="55" text-anchor="middle" textLength="86.7" lengthAdjust="spacing">300</text>
<text x="961.2" y="1663.5" font-size="51" text-anchor="middle" textLength="662.5" lengthAdjust="spacing">Annealing temperature (°C)</text>
<text transform="translate(90.8,781.7) rotate(-90)" font-size="51" text-anchor="middle" textLength="840.5" lengthAdjust="spacing">Coupling and insertion losses (dB)</text>
<text transform="translate(1855.3,782.7) rotate(-90)" font-size="51" text-anchor="middle" textLength="613" lengthAdjust="spacing">Propagation loss (dB/cm)</text>
</g></svg></body></html>
